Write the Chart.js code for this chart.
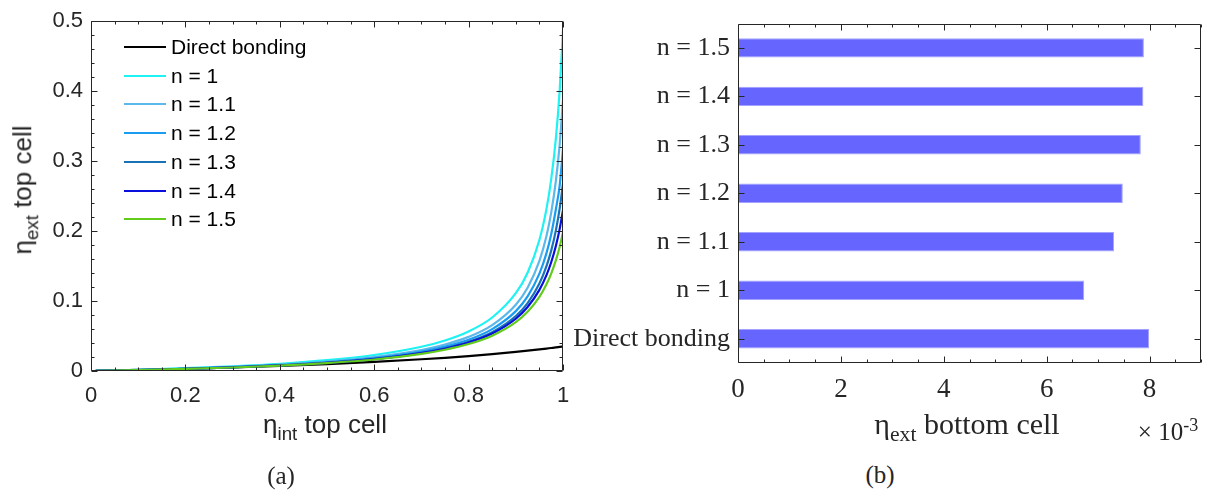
<!DOCTYPE html>
<html>
<head>
<meta charset="utf-8">
<script src="https://cdn.jsdelivr.net/npm/chart.js@4.4.1/dist/chart.umd.min.js"></script>
<style>
  body { margin: 0; background: #fff; }
  #page { position: relative; width: 1208px; height: 496px; overflow: hidden; }
  canvas { position: absolute; top: 0; }
  #chartA { left: 0; }
  #chartB { left: 560px; }
  .txt { position: absolute; white-space: nowrap; color: #262626; transform: translate(-50%, -50%); }
  .sans { font-family: "Liberation Sans", Arial, sans-serif; }
  .serif { font-family: "Liberation Serif", "Times New Roman", serif; }
  sub { font-size: 0.72em; vertical-align: -0.35em; }
  sup { font-size: 0.72em; vertical-align: 0.5em; }
  .leg { position: absolute; left: 124px; height: 24px; display: flex; align-items: center;
         font-family: "Liberation Sans", Arial, sans-serif; font-size: 21px; color: #000; }
  .leg span.sw { display: inline-block; width: 42px; height: 2px; margin-right: 5px; }
</style>
</head>
<body>
<div id="page">
  <canvas id="chartA" width="600" height="420"></canvas>
  <canvas id="chartB" width="648" height="420"></canvas>
  <div id="legendA"></div>
  <div class="txt sans" style="left:25px; top:190px; font-size:26px; transform: translate(-50%,-50%) rotate(-90deg);">η<sub>ext</sub> top cell</div>
  <div class="txt sans" style="left:325px; top:427px; font-size:26px;">η<sub>int</sub> top cell</div>
  <div class="txt serif" style="left:281px; top:476px; font-size:25px;">(a)</div>
  <div class="txt serif" style="left:967px; top:427px; font-size:30px;">η<sub>ext</sub> bottom cell</div>
  <div class="txt serif" style="left:1168px; top:430px; font-size:25px;">× 10<sup>-3</sup></div>
  <div class="txt serif" style="left:880px; top:475px; font-size:25px;">(b)</div>
</div>
<script>
// panel (a): eta_ext of the top cell vs eta_int
var etaInt = [0.01, 0.1, 0.2, 0.3, 0.4, 0.5, 0.6, 0.7, 0.75, 0.8, 0.85, 0.9, 0.925, 0.95, 0.965, 0.975, 0.985, 0.993, 1.0];
var directBonding = [0.0001, 0.0015, 0.0031, 0.0051, 0.0073, 0.0099, 0.0130, 0.0168, 0.0189, 0.0214, 0.0242, 0.0273, 0.0290, 0.0309, 0.0321, 0.0329, 0.0337, 0.0344, 0.0350];
var n10 = [0.0002, 0.0018, 0.0040, 0.0068, 0.0104, 0.0155, 0.0229, 0.0347, 0.0437, 0.0566, 0.0765, 0.1112, 0.1405, 0.1873, 0.2317, 0.2738, 0.3331, 0.4015, 0.4878];
var n11 = [0.0001, 0.0015, 0.0035, 0.0059, 0.0091, 0.0135, 0.0199, 0.0300, 0.0378, 0.0488, 0.0657, 0.0948, 0.1191, 0.1574, 0.1930, 0.2263, 0.2723, 0.3240, 0.3875];
var n12 = [0.0001, 0.0014, 0.0032, 0.0055, 0.0085, 0.0125, 0.0184, 0.0277, 0.0348, 0.0447, 0.0599, 0.0856, 0.1066, 0.1391, 0.1685, 0.1954, 0.2316, 0.2654, 0.3176];
var n13 = [0.0001, 0.0014, 0.0031, 0.0052, 0.0080, 0.0118, 0.0173, 0.0260, 0.0325, 0.0417, 0.0554, 0.0785, 0.0970, 0.1250, 0.1499, 0.1721, 0.2014, 0.2324, 0.2680];
var n14 = [0.0001, 0.0014, 0.0030, 0.0052, 0.0079, 0.0117, 0.0171, 0.0255, 0.0318, 0.0405, 0.0535, 0.0747, 0.0914, 0.1159, 0.1370, 0.1554, 0.1790, 0.2031, 0.2299];
var n15 = [0.0001, 0.0013, 0.0029, 0.0050, 0.0077, 0.0113, 0.0164, 0.0245, 0.0304, 0.0385, 0.0505, 0.0698, 0.0846, 0.1059, 0.1239, 0.1392, 0.1584, 0.1777, 0.1985];
var seriesNames = ['Direct bonding', 'n = 1', 'n = 1.1', 'n = 1.2', 'n = 1.3', 'n = 1.4', 'n = 1.5'];
var seriesColors = ['#000000', '#1ff2f2', '#5cb8ea', '#1a9cf0', '#1a72b6', '#0a10dc', '#62cc1c'];

// panel (b): eta_ext of the bottom cell (x 1e-3)
var bondLabels = ['Direct bonding', 'n = 1', 'n = 1.1', 'n = 1.2', 'n = 1.3', 'n = 1.4', 'n = 1.5'];
var bottomEta = [7.99, 6.73, 7.31, 7.48, 7.83, 7.88, 7.89];

var tickColor = '#262626';

// matlab style box with inward ticks
var boxTicks = {
    id: 'boxTicks',
    afterDatasetsDraw: function (chart, args, o) {
        var ctx = chart.ctx, a = chart.chartArea;
        ctx.save();
        ctx.strokeStyle = tickColor;
        ctx.lineWidth = 1;
        ctx.beginPath();
        var xs = chart.scales.x, ys = chart.scales.y;
        var L = Math.round(a.left) + 0.5, R = Math.round(a.right) - 0.5;
        var T = Math.round(a.top) + 0.5, B = Math.round(a.bottom) - 0.5;
        function ticks(spec, scale) {
            var out = [];
            if (spec.cats) {
                for (var i = 0; i < spec.cats; i++) out.push([scale.getPixelForValue(i), 6]);
                return out;
            }
            var n = Math.round((spec.max - spec.min) / spec.minor);
            for (var j = 0; j <= n; j++) {
                var v = spec.min + j * spec.minor;
                var r = v / spec.major;
                var major = Math.abs(r - Math.round(r)) < 1e-6;
                out.push([scale.getPixelForValue(v), major ? 6 : 3]);
            }
            return out;
        }
        ticks(o.x, xs).forEach(function (t) {
            var p = Math.round(t[0]) + 0.5;
            ctx.moveTo(p, B); ctx.lineTo(p, B - t[1]);
            ctx.moveTo(p, T); ctx.lineTo(p, T + t[1]);
        });
        ticks(o.y, ys).forEach(function (t) {
            var p = Math.round(t[0]) + 0.5;
            ctx.moveTo(L, p); ctx.lineTo(L + t[1], p);
            ctx.moveTo(R, p); ctx.lineTo(R - t[1], p);
        });
        ctx.rect(L, T, R - L, B - T);
        ctx.stroke();
        ctx.restore();
    }
};

function shortNum(v) {
    return String(Number(v.toFixed(3)));
}

function renderChartA() {
    var ctx = document.getElementById('chartA').getContext('2d');
    var all = [directBonding, n10, n11, n12, n13, n14, n15];
    var datasets = all.map(function (vals, k) {
        return {
            label: seriesNames[k],
            data: vals.map(function (v, i) { return { x: etaInt[i], y: v }; }),
            borderColor: seriesColors[k],
            borderWidth: 2.2,
            pointRadius: 0,
            cubicInterpolationMode: 'monotone',
            order: all.length - k
        };
    });
    new Chart(ctx, {
        type: 'line',
        data: { datasets: datasets },
        plugins: [boxTicks],
        options: {
            responsive: false,
            animation: false,
            layout: { padding: { left: 0, top: 15, right: 37, bottom: 0 } },
            plugins: {
                legend: { display: false },
                tooltip: { enabled: false },
                boxTicks: {
                    x: { min: 0, max: 1, minor: 0.05, major: 0.2 },
                    y: { min: 0, max: 0.5, minor: 0.02, major: 0.1 }
                }
            },
            scales: {
                x: {
                    type: 'linear', min: 0, max: 1,
                    afterFit: function (s) { s.height = 49; },
                    grid: { display: false, drawTicks: false },
                    border: { display: false },
                    ticks: { stepSize: 0.2, padding: 12, maxRotation: 0, autoSkip: false, color: tickColor,
                             font: { family: 'Liberation Sans', size: 22 }, callback: shortNum }
                },
                y: {
                    type: 'linear', min: 0, max: 0.5,
                    afterFit: function (s) { s.width = 91; },
                    grid: { display: false, drawTicks: false },
                    border: { display: false },
                    ticks: { stepSize: 0.1, padding: 8, autoSkip: false, color: tickColor,
                             font: { family: 'Liberation Sans', size: 22 }, callback: shortNum }
                }
            }
        }
    });

    var leg = document.getElementById('legendA');
    seriesNames.forEach(function (name, k) {
        var row = document.createElement('div');
        row.className = 'leg';
        row.style.top = (47 + k * 28.7 - 12) + 'px';
        row.innerHTML = '<span class="sw" style="background:' + seriesColors[k] + '"></span>' + name;
        leg.appendChild(row);
    });
}

function renderChartB() {
    var ctx = document.getElementById('chartB').getContext('2d');
    new Chart(ctx, {
        type: 'bar',
        data: {
            labels: bondLabels,
            datasets: [{
                data: bottomEta,
                backgroundColor: '#6666ff',
                borderColor: '#a3a3ff',
                borderWidth: 1,
                barPercentage: 0.4,
                categoryPercentage: 1
            }]
        },
        plugins: [boxTicks],
        options: {
            indexAxis: 'y',
            responsive: false,
            animation: false,
            layout: { padding: { left: 0, top: 6, right: 7, bottom: 0 } },
            plugins: {
                legend: { display: false },
                tooltip: { enabled: false },
                boxTicks: {
                    x: { min: 0, max: 9, minor: 0.5, major: 2 },
                    y: { cats: bondLabels.length }
                }
            },
            scales: {
                x: {
                    type: 'linear', min: 0, max: 9,
                    afterFit: function (s) { s.height = 57; },
                    grid: { display: false, drawTicks: false },
                    border: { display: false },
                    ticks: { stepSize: 2, includeBounds: false, padding: 11, maxRotation: 0, autoSkip: false, color: tickColor,
                             font: { family: 'Liberation Serif', size: 27 } }
                },
                y: {
                    reverse: true,
                    afterFit: function (s) { s.width = 178; },
                    grid: { display: false, drawTicks: false },
                    border: { display: false },
                    ticks: { padding: 8, autoSkip: false, color: tickColor,
                             font: { family: 'Liberation Serif', size: 26 } }
                }
            }
        }
    });
}

document.addEventListener("DOMContentLoaded", function () {
    renderChartA();
    renderChartB();
});
</script>
</body>
</html>
